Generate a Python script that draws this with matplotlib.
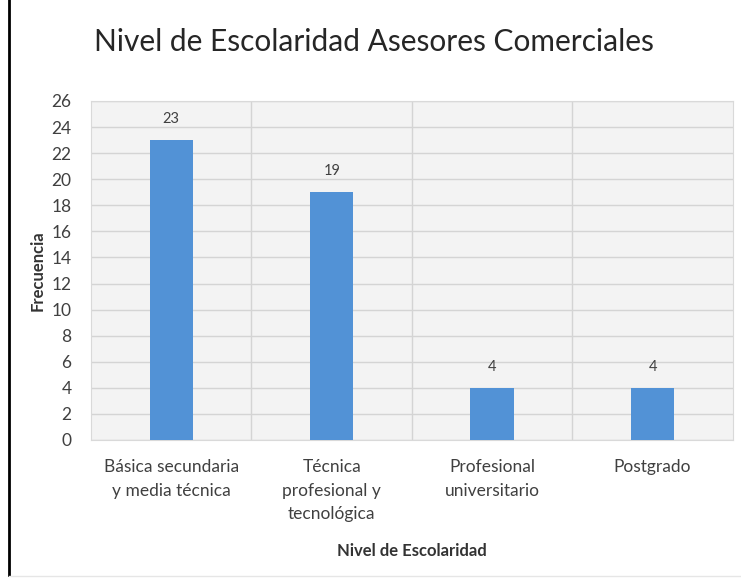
import matplotlib
matplotlib.use("Agg")
import matplotlib.pyplot as plt
from matplotlib.lines import Line2D

categories = ["Básica secundaria\ny media técnica",
              "Técnica\nprofesional y\ntecnológica",
              "Profesional\nuniversitario",
              "Postgrado"]
frecuencia = [23, 19, 4, 4]
yticks = list(range(0, 27, 2))

plt.rcParams['font.family'] = ['Lato', 'DejaVu Sans']

fig = plt.figure(figsize=(7.41, 5.81), dpi=100)
fig.patch.set_facecolor("white")
ax = fig.add_axes([0.1228, 0.2427, 0.8662, 0.5835])
ax.set_facecolor("#f3f3f3")

x = list(range(len(categories)))
bars = ax.bar(x, frecuencia, width=0.27, color="#5292d6", zorder=3)
for xi, v in zip(x, frecuencia):
    ax.annotate(str(v), (xi, v), xytext=(0, 10), textcoords="offset points",
                ha="center", va="bottom", fontsize=10.5, color="#404040")

ax.set_xlim(-0.5, len(categories) - 0.5)
ax.set_ylim(0, 26)
ax.set_yticks(yticks)
ax.set_yticklabels([str(t) for t in yticks], fontsize=12.5, color="#404040")
ax.set_xticks(x)
ax.set_xticklabels(categories, fontsize=12.5, color="#404040", linespacing=1.55)
ax.tick_params(axis="y", length=0, pad=14)
ax.tick_params(axis="x", length=0, pad=14)

ax.yaxis.grid(True, color="#d4d4d4", linewidth=1, zorder=0)
for b in [0.5, 1.5, 2.5]:
    ax.axvline(b, color="#d4d4d4", linewidth=1, zorder=0)
for s in ax.spines.values():
    s.set_color("#d9d9d9")

ax.set_ylabel("Frecuencia", fontsize=12, fontweight="bold", color="#333333", labelpad=4)
ax.set_xlabel("Nivel de Escolaridad", fontsize=12, fontweight="bold", color="#333333", labelpad=15)

fig.text(0.505, 0.927, "Nivel de Escolaridad Asesores Comerciales",
         ha="center", va="center", fontsize=21.5, color="#262626")

fig.add_artist(Line2D([0.0121, 0.0121], [0.01, 1.0], color="black", linewidth=2,
                      transform=fig.transFigure))
fig.add_artist(Line2D([0.0121, 1.0], [0.009, 0.009], color="#e6e6e6", linewidth=1,
                      transform=fig.transFigure))

fig.savefig("out.png", dpi=100, facecolor="white")
